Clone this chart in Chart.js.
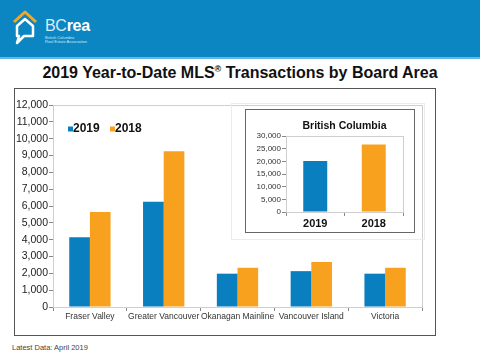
<!DOCTYPE html>
<html>
<head>
<meta charset="utf-8">
<script src="https://cdn.jsdelivr.net/npm/chart.js@4/dist/chart.umd.min.js"></script>
<style>
  body { margin: 0; width: 480px; height: 360px; background: #fff; position: relative; overflow: hidden; font-family: "Liberation Sans", Arial, sans-serif; }
  #header { position: absolute; left: 0; top: 0; width: 480px; height: 57px; background: #0b86c2; border-bottom: 2px solid #63b7e2; }
  #logoText { position: absolute; left: 45px; top: 17px; font-size: 16px; color: #fff; letter-spacing: -0.3px; }
  #logoText .bc { font-weight: 300; color: #d8ecf7; }
  #logoText .rea { font-weight: bold; }
  #logoSub { position: absolute; left: 45px; top: 36px; font-size: 4px; line-height: 4px; color: #cfe6f3; }
  #title { position: absolute; left: 0; width: 480px; top: 64px; text-align: center; font-weight: bold; font-size: 16px; color: #111; }
  #title sup { font-size: 9px; }
  #mainBox { position: absolute; left: 14px; top: 88px; width: 420px; height: 246px; border: 1px solid #555; }
  #insetShade { position: absolute; left: 231px; top: 103px; width: 192px; height: 135px; border: 1px solid #ececec; }
  #insetBox { position: absolute; left: 245px; top: 109px; width: 168px; height: 122px; border: 1px solid #666; background: #fff; }
  #footer { position: absolute; left: 12px; top: 343px; font-size: 7.5px; color: #444; }
  canvas { position: absolute; left: 0; top: 0; }
</style>
</head>
<body>
<div id="header">
  <svg width="45" height="57" style="position:absolute;left:0;top:0">
    <path d="M17,43 L19,36 L17,36 L17,26 L25,19 L33,26 L33,36 L24,36 Z" fill="none" stroke="#fff" stroke-width="2.5" stroke-linejoin="round"/>
    <path d="M14,22 L25,12 L36,22" fill="none" stroke="#f6a623" stroke-width="3" stroke-linejoin="round"/>
  </svg>
  <div id="logoText"><span class="bc">BC</span><span class="rea">rea</span></div>
  <div id="logoSub">British Columbia<br>Real Estate Association</div>
</div>
<div id="title">2019 Year-to-Date MLS<sup>®</sup> Transactions by Board Area</div>
<div id="mainBox"><canvas id="mainChart" width="420" height="246"></canvas></div>
<div id="insetShade"></div>
<div id="insetBox"><canvas id="bcChart" width="168" height="122"></canvas></div>
<div id="footer">Latest Data: April 2019</div>

<script>
const regions = ['Fraser Valley', 'Greater Vancouver', 'Okanagan Mainline', 'Vancouver Island', 'Victoria'];
const sales2019 = [4150, 6250, 1980, 2130, 1980];
const sales2018 = [5650, 9250, 2330, 2680, 2330];

const bcTitle = 'British Columbia';
const bcLabels = ['2019', '2018'];
const bcValues = [20100, 26600];

const blue = '#0a7fbf';
const orange = '#f8a11f';
const fontFamily = '"Liberation Sans", Arial, sans-serif';

const fmt = v => v.toLocaleString('en-US');

// light frame round the plot area (top and right sides show)
const plotFrame = {
    id: 'plotFrame',
    beforeDatasetsDraw(chart) {
        const { ctx, chartArea: { left, top, width, height } } = chart;
        ctx.save();
        ctx.strokeStyle = '#cfcfcf';
        ctx.lineWidth = 1;
        ctx.strokeRect(left + 0.5, top + 0.5, width, height);
        ctx.restore();
    }
}

// legend inside the plot, top left
const innerLegend = {
    id: 'innerLegend',
    afterDraw(chart) {
        const { ctx, chartArea: { left, top } } = chart;
        ctx.save();
        ctx.font = 'bold 12px ' + fontFamily;
        ctx.textBaseline = 'middle';
        let x = left + 15;
        const y = top + 24;
        chart.data.datasets.forEach(ds => {
            ctx.fillStyle = ds.backgroundColor;
            ctx.fillRect(x, y - 2.5, 5, 5);
            ctx.fillStyle = '#111';
            ctx.fillText(ds.label, x + 5, y);
            x += 42;
        });
        ctx.restore();
    }
}

// title centred over the plot area rather than the canvas
const plotTitle = {
    id: 'plotTitle',
    afterDraw(chart) {
        const { ctx, chartArea: { left, right } } = chart;
        ctx.save();
        ctx.font = 'bold 10.5px ' + fontFamily;
        ctx.fillStyle = '#111';
        ctx.textAlign = 'center';
        ctx.textBaseline = 'middle';
        ctx.fillText(bcTitle, (left + right) / 2, 16);
        ctx.restore();
    }
}

const mainChart = new Chart(document.getElementById('mainChart'), {
    type: 'bar',
    plugins: [plotFrame, innerLegend],
    data: {
        labels: regions,
        datasets: [
            { label: '2019', data: sales2019, backgroundColor: blue },
            { label: '2018', data: sales2018, backgroundColor: orange },
        ]
    },
    options: {
        responsive: false,
        animation: false,
        categoryPercentage: 0.56,
        barPercentage: 1,
        layout: { padding: { top: 16, right: 13, left: 0, bottom: 0 } },
        plugins: { legend: { display: false }, tooltip: { enabled: false } },
        scales: {
            x: {
                grid: { drawOnChartArea: false, tickLength: 4, color: '#888' },
                border: { color: '#888' },
                ticks: { padding: 1, color: '#333', font: { size: 8.5, family: fontFamily }, maxRotation: 0, autoSkip: false },
                afterFit(scale) { scale.height = 28; }
            },
            y: {
                min: 0,
                max: 12000,
                grid: { drawOnChartArea: false, tickLength: 4, color: '#888' },
                border: { color: '#888' },
                ticks: { stepSize: 1000, padding: 1, autoSkip: false, color: '#222', callback: v => fmt(v), font: { size: 10.5, family: fontFamily } },
                afterFit(scale) { scale.width = 38; }
            }
        }
    }
});

const bcChart = new Chart(document.getElementById('bcChart'), {
    type: 'bar',
    plugins: [plotFrame, plotTitle],
    data: {
        labels: bcLabels,
        datasets: [
            { label: bcTitle, data: bcValues, backgroundColor: [blue, orange] }
        ]
    },
    options: {
        responsive: false,
        animation: false,
        categoryPercentage: 0.41,
        barPercentage: 1,
        layout: { padding: { top: 26, right: 11, left: 0, bottom: 0 } },
        plugins: { legend: { display: false }, tooltip: { enabled: false } },
        scales: {
            x: {
                grid: { drawOnChartArea: false, tickLength: 4, color: '#888' },
                border: { color: '#888' },
                ticks: { padding: 1, color: '#111', font: { size: 11, weight: 'bold', family: fontFamily } },
                afterFit(scale) { scale.height = 20; }
            },
            y: {
                min: 0,
                max: 30000,
                grid: { drawOnChartArea: false, tickLength: 4, color: '#888' },
                border: { color: '#888' },
                ticks: { stepSize: 5000, padding: 1, autoSkip: false, color: '#333', callback: v => fmt(v), font: { size: 8, family: fontFamily } },
                afterFit(scale) { scale.width = 40; }
            }
        }
    }
});
</script>
</body>
</html>
